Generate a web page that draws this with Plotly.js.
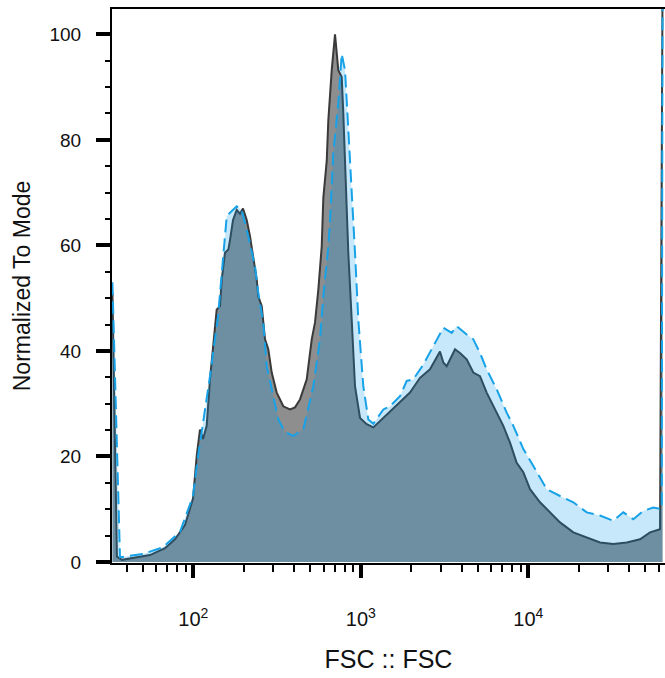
<!DOCTYPE html>
<html>
<head>
<meta charset="utf-8">
<script src="https://cdn.plot.ly/plotly-3.0.1.min.js"></script>
<style>html,body{margin:0;padding:0;background:#fff;}#chart{width:665px;height:678px;}</style>
</head>
<body>
<div id="chart"></div>
<script>
// Sample 1 (gray, solid outline)
const fscGray = [32.9, 35.0, 37.5, 44.9, 55.1, 67.8, 77.7, 89.2, 95.6, 99.6, 104.8, 109.6, 114.3, 120.2, 125.8, 137.9, 144.3, 147.8, 154.6, 161.8, 165.6, 172.6, 181.6, 190.0, 198.0, 208.4, 218.1, 228.2, 239.1, 244.4, 256.1, 268.0, 280.4, 293.8, 314.8, 344.6, 377.8, 404.8, 433.5, 475.4, 509.3, 532.9, 557.7, 584.3, 597.3, 625.9, 639.8, 670.4, 701.5, 734.0, 769.1, 786.2, 815.9, 842.2, 882.4, 923.4, 989.0, 1084, 1188, 1302, 1494, 1714, 1966, 2256, 2588, 2970, 3108, 3256, 3650, 3910, 4287, 4695, 5146, 5643, 6180, 7091, 7776, 8523, 9335, 10235, 11747, 13478, 15465, 18567, 22324, 26797, 32166, 38684, 46443, 53295, 61149, 63300];
const countGray = [51, 1.0, 0.4, 0.8, 1.3, 2.6, 4.3, 7, 10, 12, 20.1, 25.1, 23.3, 25.8, 34.6, 47.8, 48.5, 53.5, 58.6, 59.2, 61, 64.8, 66.7, 66, 67, 64.8, 61.7, 57.9, 53.5, 50.3, 48.5, 42.2, 40.3, 35.9, 32.1, 29.5, 28.9, 29.3, 30.8, 34.6, 42.2, 45.4, 51.6, 59.8, 69, 76, 83.7, 93.2, 100, 93.2, 91.9, 85, 71.1, 58.6, 45.9, 33.3, 27.3, 26.1, 25.5, 26.7, 28.6, 30.2, 32.1, 34.9, 36.5, 39.9, 37.8, 37.1, 40.3, 39.6, 38.4, 35.9, 35.2, 32.1, 29.5, 25.8, 22.6, 18.8, 17, 13.8, 11.3, 9.4, 7.5, 5.6, 4.7, 3.7, 3.4, 3.7, 4.3, 5.6, 6.2, 110];

// Sample 2 (light blue, dashed outline)
const fscBlue = [32.9, 36.5, 50.1, 65.9, 83.3, 99.6, 106.7, 125.8, 140.4, 148.4, 158.3, 165.6, 181.6, 194.5, 203.5, 213.0, 233.6, 244.4, 261.8, 274.3, 300.4, 321.8, 352.7, 395.4, 453.7, 520.5, 570.6, 597.3, 639.8, 654.9, 685.2, 734.0, 769.1, 804.8, 842.2, 882.4, 923.4, 966.3, 1035, 1109, 1188, 1363, 1494, 1714, 1879, 2058, 2361, 2709, 3108, 3489, 3737, 4287, 4695, 5146, 5643, 6477, 7430, 8138, 9335, 10713, 12879, 15465, 18567, 22324, 26797, 32166, 36925, 42364, 48604, 55770, 62580, 63300];
const countBlue = [53, 0.9, 1.5, 2.8, 5.7, 12.5, 20, 35.2, 46.5, 55, 65.5, 66.2, 67.4, 66.7, 64.3, 61.7, 56, 51, 45.3, 37.1, 31.4, 27, 24.6, 23.9, 25.1, 33.3, 42.2, 50.3, 59.8, 64.8, 77.5, 87, 96.3, 93.2, 81.9, 71.1, 58.6, 45.9, 33.3, 27, 26.2, 28.9, 29.5, 31.4, 34.3, 34.6, 37.4, 40.9, 44.4, 43.4, 44.7, 43.1, 42.2, 39.6, 36.5, 32.7, 28.3, 25.8, 21.4, 18.2, 13.8, 12.5, 11.3, 9.4, 8.8, 7.8, 9.4, 8.1, 9.7, 10.3, 10.0, 110];

// Axis ticks
const xMajorVals = [100, 1000, 10000];
const xMajorText = ['10<sup>2</sup>', '10<sup>3</sup>', '10<sup>4</sup>'];
const xMinorVals = [40, 50, 60, 70, 80, 90, 200, 300, 400, 500, 600, 700, 800, 900,
                    2000, 3000, 4000, 5000, 6000, 7000, 8000, 9000, 20000, 30000, 40000, 50000, 60000];
const yMajorVals = [0, 20, 40, 60, 80, 100];
const yMajorText = ['0', '20', '40', '60', '80', '100'];

const traces = [
  {
    x: fscGray, y: countGray, type: 'scatter', mode: 'lines',
    fill: 'tozeroy', fillcolor: '#8e8e8e',
    line: {color: '#3a3a3a', width: 2, shape: 'linear'},
    hoverinfo: 'skip'
  },
  {
    x: fscBlue, y: countBlue, type: 'scatter', mode: 'lines',
    fill: 'tozeroy', fillcolor: 'rgba(0,150,230,0.22)',
    line: {color: '#17a2e8', width: 2, dash: '13px,6px', shape: 'linear'},
    hoverinfo: 'skip'
  }
];

const layout = {
  width: 665, height: 678,
  margin: {l: 112, r: 0, t: 9, b: 115, pad: 0},
  paper_bgcolor: '#ffffff', plot_bgcolor: '#ffffff',
  showlegend: false,
  font: {family: 'Liberation Sans, Arial, sans-serif', color: '#111111', size: 19},
  xaxis: {
    type: 'log', range: [1.5146, 4.816],
    showline: true, linecolor: '#000000', linewidth: 2, mirror: true,
    showgrid: false, zeroline: false,
    ticks: 'outside', ticklen: 13, tickwidth: 4, tickcolor: '#000000',
    tickmode: 'array', tickvals: xMajorVals, ticktext: xMajorText,
    tickfont: {size: 20, color: '#111111'},
    ticklabelstandoff: 24,
    minor: {tickmode: 'array', tickvals: xMinorVals, ticks: 'outside', ticklen: 7, tickwidth: 2, tickcolor: '#000000', showgrid: false},
    title: {text: 'FSC :: FSC', font: {size: 25, color: '#111111'}, standoff: 21},
    automargin: false
  },
  yaxis: {
    range: [-0.2, 104.8],
    showline: true, linecolor: '#000000', linewidth: 2,
    showgrid: false, zeroline: false,
    ticks: 'outside', ticklen: 14, tickwidth: 4, tickcolor: '#000000',
    tickmode: 'array', tickvals: yMajorVals, ticktext: yMajorText,
    tickfont: {size: 19, color: '#111111'},
    ticklabelstandoff: 11,
    minor: {dtick: 5, tick0: 0, ticks: 'outside', ticklen: 5, tickwidth: 2, tickcolor: '#000000', showgrid: false},
    title: {text: 'Normalized To Mode', font: {size: 23, color: '#111111'}, standoff: 12},
    automargin: false
  }
};

Plotly.newPlot('chart', traces, layout, {displayModeBar: false, staticPlot: true});
</script>
</body>
</html>
